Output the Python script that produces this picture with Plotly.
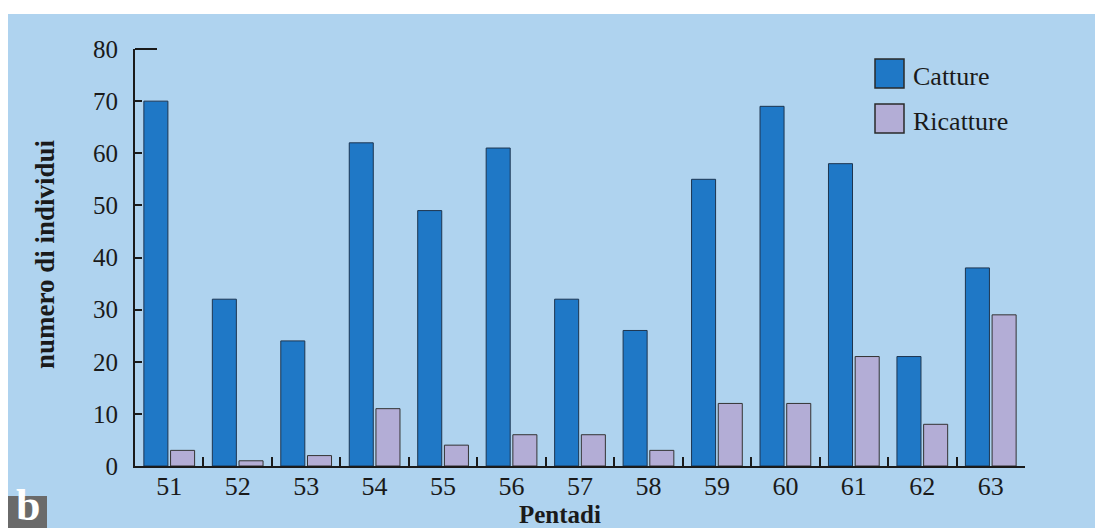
import plotly.graph_objects as go

# dati
pentadi = ['51', '52', '53', '54', '55', '56', '57', '58', '59', '60', '61', '62', '63']
catture = [70, 32, 24, 62, 49, 61, 32, 26, 55, 69, 58, 21, 38]
ricatture = [3, 1, 2, 11, 4, 6, 6, 3, 12, 12, 21, 8, 29]
y_ticks = [0, 10, 20, 30, 40, 50, 60, 70, 80]

W, H = 1095, 528
L, R, T, B = 135, 70, 49, 62
FONT = 'Liberation Serif'
INK = '#1a1a1a'
SFONDO = '#afd3ef'
BLU = '#1f78c6'
LILLA = '#b3add6'


# conversione pixel -> coordinate paper
def px(x):
    return (x - L) / (W - L - R)


def py(y):
    return (H - B - y) / (H - T - B)


fig = go.Figure()
fig.add_trace(go.Bar(x=pentadi, y=catture, name='Catture', marker_color=BLU,
                     marker_line=dict(color='#1d3550', width=1), showlegend=False))
fig.add_trace(go.Bar(x=pentadi, y=ricatture, name='Ricatture', marker_color=LILLA,
                     marker_line=dict(color='#333333', width=1), showlegend=False))

fig.update_layout(
    width=W, height=H,
    margin=dict(l=L, r=R, t=T, b=B),
    paper_bgcolor=SFONDO,
    plot_bgcolor=SFONDO,
    barmode='group',
    bargap=0.22,
    bargroupgap=0.1,
    font=dict(family=FONT, color=INK),
)

fig.update_xaxes(
    type='category', showgrid=False, zeroline=False,
    showline=True, linecolor=INK, linewidth=2,
    ticks='inside', tickson='boundaries', ticklen=9, tickwidth=1.5, tickcolor=INK,
    ticklabelstandoff=-4,
    tickfont=dict(size=26, family=FONT, color=INK),
)
fig.update_yaxes(
    range=[0, 80], tickvals=y_ticks, showgrid=False, zeroline=False,
    showline=True, linecolor=INK, linewidth=2,
    ticks='inside', ticklen=7, tickwidth=1.5, tickcolor=INK,
    ticklabelstandoff=10,
    tickfont=dict(size=25, family=FONT, color=INK),
)

# bordo bianco in alto e a sinistra
fig.add_shape(type='rect', xref='paper', yref='paper', x0=px(0), x1=px(W), y0=py(14), y1=py(0),
              fillcolor='white', line_width=0, layer='above')
fig.add_shape(type='rect', xref='paper', yref='paper', x0=px(0), x1=px(8), y0=py(H), y1=py(0),
              fillcolor='white', line_width=0, layer='above')

# trattino in cima all'asse y
fig.add_shape(type='line', xref='paper', yref='paper', x0=0, x1=px(157), y0=1, y1=1,
              line=dict(color=INK, width=2))

# legenda disegnata a mano
voci = [('Catture', BLU, 59), ('Ricatture', LILLA, 104)]
for nome, colore, top in voci:
    fig.add_shape(type='rect', xref='paper', yref='paper',
                  x0=px(875), x1=px(904), y0=py(top + 29), y1=py(top),
                  fillcolor=colore, line=dict(color='#2a2a2a', width=1.5))
    fig.add_annotation(text=nome, xref='paper', yref='paper', x=px(911), y=py(top + 17),
                       xanchor='left', yanchor='middle', showarrow=False,
                       font=dict(size=26, family=FONT, color=INK))

# titoli degli assi
fig.add_annotation(text='<b>numero di individui</b>', xref='paper', yref='paper',
                   x=px(45), y=py(254), textangle=-90, showarrow=False,
                   xanchor='center', yanchor='middle',
                   font=dict(size=27, family=FONT, color=INK))
fig.add_annotation(text='<b>Pentadi</b>', xref='paper', yref='paper',
                   x=px(560), y=py(514), showarrow=False,
                   xanchor='center', yanchor='middle',
                   font=dict(size=25, family=FONT, color=INK))

# etichetta "b"
fig.add_shape(type='rect', xref='paper', yref='paper', x0=px(8), x1=px(47), y0=py(H), y1=py(496),
              fillcolor='#6a6a6a', line_width=0, layer='above')
fig.add_annotation(text='<b>b</b>', xref='paper', yref='paper', x=px(27.5), y=py(H + 4),
                   xanchor='center', yanchor='bottom', showarrow=False,
                   font=dict(size=44, family=FONT, color='white'))

fig.write_html('out.html', config={'displayModeBar': False},
               post_script="document.body.style.margin='0';")
